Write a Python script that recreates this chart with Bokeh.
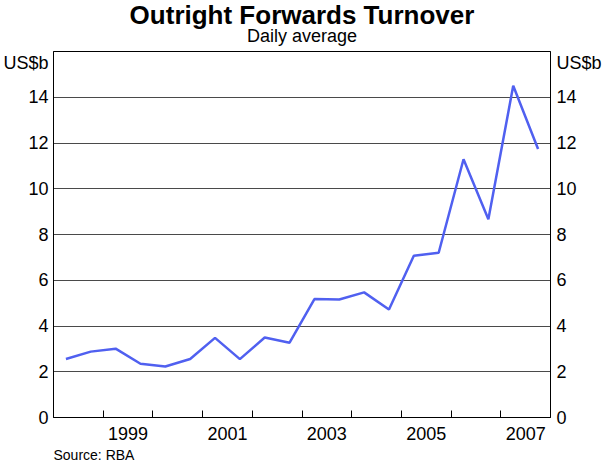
from bokeh.plotting import figure
from bokeh.models import Range1d, LinearAxis, FixedTicker, Title, CustomJSTickFormatter
from bokeh.embed import file_html
from bokeh.resources import INLINE

# ---- data ----
dates = ["1998-04", "1998-10", "1999-04", "1999-10", "2000-04", "2000-10",
         "2001-04", "2001-10", "2002-04", "2002-10", "2003-04", "2003-10",
         "2004-04", "2004-10", "2005-04", "2005-10", "2006-04", "2006-10",
         "2007-04", "2007-10"]
turnover = [2.56, 2.88, 3.01, 2.35, 2.23, 2.56, 3.48, 2.55, 3.50, 3.27,
            5.18, 5.16, 5.47, 4.72, 7.07, 7.20, 11.29, 8.67, 14.50, 11.74]
year_label_ticks = [1999.5, 2001.5, 2003.5, 2005.5, 2007.5]
year_boundaries = [1999, 2000, 2001, 2002, 2003, 2004, 2005, 2006, 2007]
y_ticks = [0, 2, 4, 6, 8, 10, 12, 14]
grid_ticks = [2, 4, 6, 8, 10, 12, 14]
unit_pos = 15.5
unit_text = "US$b"
title_text = "Outright Forwards Turnover"
subtitle_text = "Daily average"
source_text = "Source: RBA"

x = [int(d[:4]) + (int(d[5:]) - 1) / 12 for d in dates]

FONT = "Liberation Sans"

p = figure(width=604, height=464, output_backend="svg", toolbar_location=None,
           tools="", title=None, x_range=Range1d(1998, 2008), y_range=Range1d(0, 16),
           min_border_left=49, min_border_right=54, min_border_top=51,
           min_border_bottom=45)
p.background_fill_color = "white"
p.border_fill_color = "white"
p.outline_line_color = "black"
p.outline_line_width = 1
p.outline_line_alpha = 1.0

# grid
p.xgrid.visible = False
p.ygrid.ticker = FixedTicker(ticks=grid_ticks)
p.ygrid.grid_line_color = "#4a4a4a"
p.ygrid.grid_line_width = 1

# x axis
xa = p.xaxis[0]
xa.ticker = FixedTicker(ticks=year_label_ticks, minor_ticks=year_boundaries)
xa.formatter = CustomJSTickFormatter(code="return Math.floor(tick).toString()")
xa.major_tick_in = 0
xa.major_tick_out = 0
xa.minor_tick_in = 7
xa.minor_tick_out = 0
xa.minor_tick_line_color = "black"
xa.axis_line_color = "black"
xa.major_label_text_font = FONT
xa.major_label_text_font_size = "18px"
xa.major_label_text_color = "black"
xa.major_label_standoff = 9

ytick_fmt = "return tick > 15 ? '" + unit_text + "' : tick.toFixed(0)"


def style_y(ax, standoff):
    ax.ticker = FixedTicker(ticks=y_ticks + [unit_pos])
    ax.formatter = CustomJSTickFormatter(code=ytick_fmt)
    ax.major_tick_in = 0
    ax.major_tick_out = 0
    ax.minor_tick_in = 0
    ax.minor_tick_out = 0
    ax.axis_line_color = "black"
    ax.major_label_text_font = FONT
    ax.major_label_text_font_size = "18px"
    ax.major_label_text_color = "black"
    ax.major_label_standoff = standoff


style_y(p.yaxis[0], 5)
ry = LinearAxis()
style_y(ry, 6)
p.add_layout(ry, "right")

# series
p.line(x, turnover, line_color="#5060f0", line_width=2.5)

# texts
p.add_layout(Title(text=subtitle_text, align="center", text_font=FONT,
                   text_font_style="normal", text_font_size="18px",
                   text_color="black", standoff=11), "above")
p.add_layout(Title(text=title_text, align="center", text_font=FONT,
                   text_font_style="bold", text_font_size="26px",
                   text_color="black", standoff=-23), "above")
p.add_layout(Title(text=source_text, align="left", text_font=FONT,
                   text_font_style="normal", text_font_size="14px",
                   text_color="black", standoff=4), "below")

open("out.html", "w").write(file_html(p, INLINE))
